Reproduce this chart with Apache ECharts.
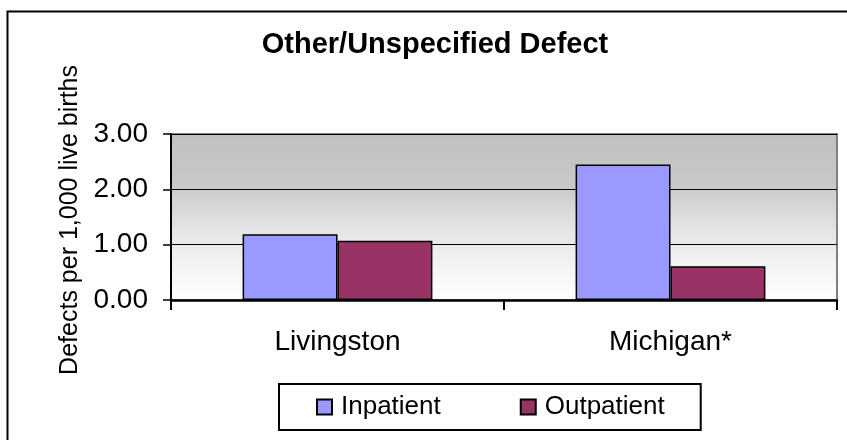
<!DOCTYPE html>
<html>
<head>
<meta charset="utf-8">
<script src="https://cdn.jsdelivr.net/npm/echarts@6/dist/echarts.min.js"></script>
<style>
html,body{margin:0;padding:0;background:#fff;}
#chart{width:847px;height:440px;}
</style>
</head>
<body>
<div id="chart"></div>
<script>
var categories = ['Livingston', 'Michigan*'];
var seriesNames = ['Inpatient', 'Outpatient'];
var inpatient = [1.19, 2.45];
var outpatient = [1.07, 0.61];
var yTicks = [0, 1, 2, 3];
var titleText = 'Other/Unspecified Defect';
var yAxisName = 'Defects per 1,000 live births';

var FONT = '"Liberation Sans", Arial, sans-serif';
var chart = echarts.init(document.getElementById('chart'), null, {renderer: 'canvas'});
chart.setOption({
  animation: false,
  backgroundColor: '#ffffff',
  graphic: [
    {type: 'rect', left: 5, top: 9, shape: {width: 900, height: 500},
     style: {fill: 'none', stroke: '#000', lineWidth: 2}, z: 100, silent: true},
    {type: 'text', x: 435, y: 45,
     style: {text: titleText, fontFamily: FONT, fontSize: 29, fontWeight: 'bold', fill: '#000',
             align: 'center', verticalAlign: 'middle'}},
    {type: 'text', x: 70, y: 65, rotation: Math.PI / 2,
     style: {text: yAxisName, fontFamily: FONT, fontSize: 25, fill: '#000',
             align: 'right', verticalAlign: 'middle'}}
  ],
  legend: {
    data: seriesNames,
    left: 279, top: 384,
    orient: 'horizontal',
    padding: [10, 36, 10, 37],
    itemGap: 79,
    itemWidth: 15, itemHeight: 15,
    icon: 'rect',
    borderColor: '#000', borderWidth: 2,
    textStyle: {fontFamily: FONT, fontSize: 26, color: '#000', padding: [0, 0, 0, 4]}
  },
  grid: {
    left: 171, top: 134, width: 666, height: 166,
    show: true,
    borderColor: '#808080', borderWidth: 2,
    backgroundColor: new echarts.graphic.LinearGradient(0, 0, 0, 1, [
      {offset: 0, color: '#c0c0c0'},
      {offset: 0.3, color: '#c8c8c8'},
      {offset: 0.55, color: '#e2e2e2'},
      {offset: 0.75, color: '#f1f1f1'},
      {offset: 1, color: '#ffffff'}
    ])
  },
  xAxis: {
    type: 'category',
    data: categories,
    axisLine: {show: true, lineStyle: {color: '#000', width: 2.5}},
    axisTick: {show: true, length: 10, lineStyle: {color: '#000', width: 2}},
    axisLabel: {fontFamily: FONT, fontSize: 28, color: '#000', margin: 28},
    splitLine: {show: false}
  },
  yAxis: {
    type: 'value',
    min: 0, max: 3, interval: 1,
    axisLine: {show: true, lineStyle: {color: '#000', width: 2}},
    axisTick: {show: true, length: 8, lineStyle: {color: '#000', width: 1.5}},
    axisLabel: {fontFamily: FONT, fontSize: 28, color: '#000', margin: 23,
                formatter: function (v) { return yTicks.indexOf(v) >= 0 ? v.toFixed(2) : ''; }},
    splitLine: {show: true, lineStyle: {color: '#000', width: 1}}
  },
  series: [
    {name: seriesNames[0], type: 'bar', data: inpatient, barGap: '0%', barCategoryGap: '43%',
     itemStyle: {color: '#9999ff', borderColor: '#000', borderWidth: 1.5}},
    {name: seriesNames[1], type: 'bar', data: outpatient,
     itemStyle: {color: '#993366', borderColor: '#000', borderWidth: 1.5}}
  ]
});
</script>
</body>
</html>
